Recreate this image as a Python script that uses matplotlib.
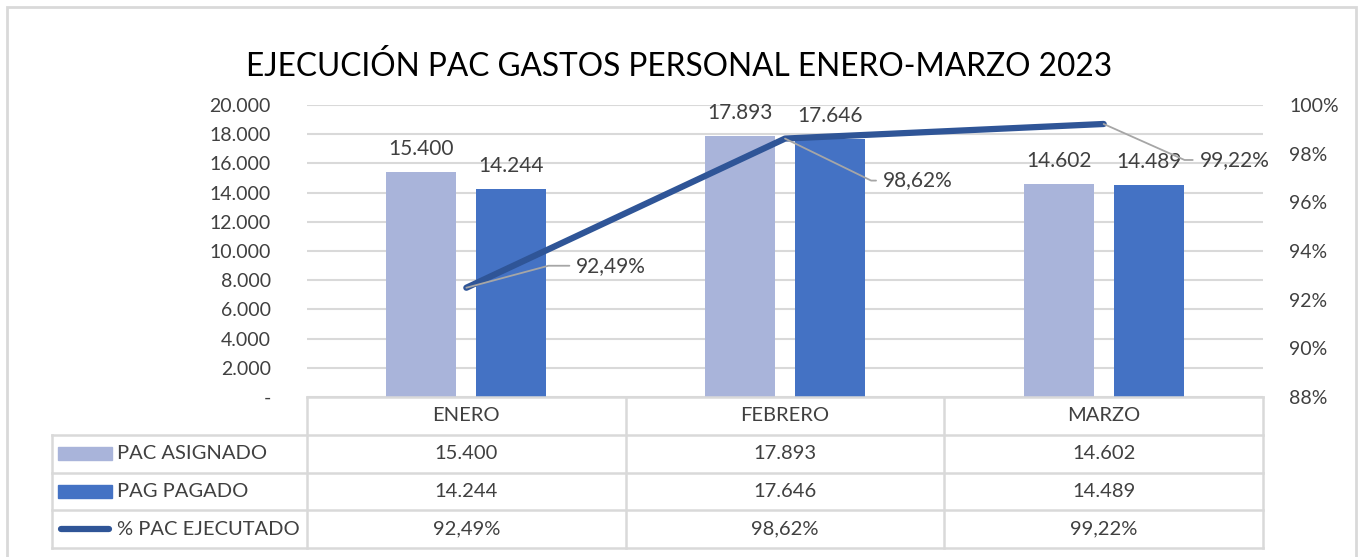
import matplotlib.pyplot as plt
from matplotlib.patches import Rectangle
from matplotlib.lines import Line2D

plt.rcParams['font.family'] = ['Lato', 'DejaVu Sans']

meses = ['ENERO', 'FEBRERO', 'MARZO']
pac_asignado = [15400, 17893, 14602]
pag_pagado = [14244, 17646, 14489]
pct_ejecutado = [0.9249, 0.9862, 0.9922]
series = ['PAC ASIGNADO', 'PAG PAGADO', '% PAC EJECUTADO']
yticks = [0, 2000, 4000, 6000, 8000, 10000, 12000, 14000, 16000, 18000, 20000]
pticks = [0.88, 0.90, 0.92, 0.94, 0.96, 0.98, 1.00]

C_LIGHT = '#a9b4da'
C_DARK = '#4472c4'
C_LINE = '#2f5597'
C_TXT = '#404040'
C_GRID = '#d9d9d9'

W, H = 1358, 557
FS = 14.5


def miles(v):
    return '-' if v == 0 else f'{v:,.0f}'.replace(',', '.')


def pct(v):
    return f'{v * 100:.2f}%'.replace('.', ',')


fig = plt.figure(figsize=(W / 100, H / 100), dpi=100)
fig.patches.append(Rectangle((7 / W, -0.1), (1356 - 7) / W, (H - 7) / H + 0.1,
                             transform=fig.transFigure, fill=False,
                             edgecolor=C_GRID, lw=2))

x0, x1, ytop, ybot = 307, 1263, 105, 397
ax = fig.add_axes([x0 / W, (H - ybot) / H, (x1 - x0) / W, (ybot - ytop) / H])
x = range(len(meses))
bw, off = 0.22, 0.141
ax.bar([i - off for i in x], pac_asignado, bw, color=C_LIGHT, zorder=2)
ax.bar([i + off for i in x], pag_pagado, bw, color=C_DARK, zorder=2)
for i in x:
    ax.annotate(miles(pac_asignado[i]), (i - off, pac_asignado[i]), xytext=(0, 23),
                textcoords='offset pixels', ha='center', va='center', fontsize=15,
                color=C_TXT)
    ax.annotate(miles(pag_pagado[i]), (i + off, pag_pagado[i]), xytext=(0, 23),
                textcoords='offset pixels', ha='center', va='center', fontsize=15,
                color=C_TXT)
ax.set_xlim(-0.5, 2.5)
ax.set_ylim(0, 20000)
ax.set_yticks(yticks)
ax.set_yticklabels([miles(v) for v in yticks], fontsize=14, color=C_TXT)
ax.set_xticks([])
ax.yaxis.grid(True, color=C_GRID, lw=1.5, zorder=0)
ax.set_axisbelow(True)
for s in ax.spines.values():
    s.set_visible(False)
ax.tick_params(axis='y', length=0, pad=26)

ax2 = ax.twinx()
ax2.plot(list(x), pct_ejecutado, color=C_LINE, lw=4.5, solid_capstyle='round', zorder=3)
ax2.set_ylim(0.88, 1.00)
ax2.set_yticks(pticks)
ax2.set_yticklabels([f'{round(v * 100)}%' for v in pticks], fontsize=14, color=C_TXT)
ax2.tick_params(axis='y', length=0, pad=19)
for s in ax2.spines.values():
    s.set_visible(False)

# etiquetas con linea guia
guias = [(110, 22, 15), (98, -42, -26), (96, -36, -24)]
for i, (dx, dy, ang) in enumerate(guias):
    ax2.annotate(pct(pct_ejecutado[i]), (i, pct_ejecutado[i]), xytext=(dx, dy),
                 textcoords='offset pixels', ha='left', va='center', fontsize=15,
                 color=C_TXT,
                 arrowprops=dict(arrowstyle='-', color='#a6a6a6', lw=1.3,
                                 relpos=(0, 0.5), shrinkA=3, shrinkB=0,
                                 connectionstyle=f'angle,angleA=0,angleB={ang},rad=0'))

fig.suptitle('EJECUCIÓN PAC GASTOS PERSONAL ENERO-MARZO 2023', y=(H - 66) / H,
             va='center', fontsize=22.8, color='black')

# tabla de datos
tl, tb = 52, 548
unit = (x1 - x0) / 3
left_u = -0.5 - (x0 - tl) / unit
tab = fig.add_axes([tl / W, (H - tb) / H, (x1 - tl) / W, (tb - ybot) / H])
tab.set_xlim(left_u, 2.5)
tab.set_ylim(4, 0)
tab.axis('off')
lk = dict(color=C_GRID, lw=1.8, clip_on=False)
tab.plot([-0.5, 2.5], [0, 0], **lk)
for r in range(1, 5):
    tab.plot([left_u, 2.5], [r, r], **lk)
for c in [-0.5, 0.5, 1.5, 2.5]:
    tab.plot([c, c], [0, 4], **lk)
tab.plot([left_u, left_u], [1, 4], **lk)

for i, m in enumerate(meses):
    tab.text(i, 0.5, m, ha='center', va='center', fontsize=FS, color=C_TXT)
    tab.text(i, 1.5, miles(pac_asignado[i]), ha='center', va='center', fontsize=FS, color=C_TXT)
    tab.text(i, 2.5, miles(pag_pagado[i]), ha='center', va='center', fontsize=FS, color=C_TXT)
    tab.text(i, 3.5, pct(pct_ejecutado[i]), ha='center', va='center', fontsize=FS, color=C_TXT)

kx0 = left_u + 6 / unit
kx1 = left_u + 60 / unit
tab.add_patch(Rectangle((kx0, 1.32), kx1 - kx0, 0.36, color=C_LIGHT))
tab.add_patch(Rectangle((kx0, 2.32), kx1 - kx0, 0.36, color=C_DARK))
tab.add_line(Line2D([kx0 + 0.01, kx1 - 0.01], [3.5, 3.5], color=C_LINE, lw=4.5,
                    solid_capstyle='round'))
for r, name in enumerate(series):
    tab.text(left_u + 65 / unit, r + 1.5, name, ha='left', va='center', fontsize=FS,
             color=C_TXT)

fig.savefig('out.png', dpi=100)
